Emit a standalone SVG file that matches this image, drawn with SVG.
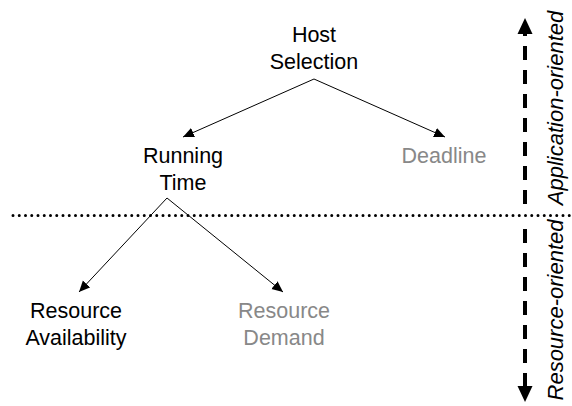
<svg xmlns="http://www.w3.org/2000/svg" width="572" height="406" viewBox="0 0 572 406">
  <defs>
    <marker id="arrow" viewBox="0 0 10 10" refX="10" refY="5" markerWidth="11" markerHeight="11" markerUnits="userSpaceOnUse" orient="auto">
      <path d="M0,0.5 L10,5 L0,9.5 Z" fill="#000"/>
    </marker>
  </defs>
  <style>
    .lbl { font-family: "Liberation Sans", Arial, sans-serif; font-size: 21.5px; text-anchor: middle; fill: #000; }
    .dim { fill: #888888; }
    .axis { font-family: "Liberation Sans", Arial, sans-serif; font-size: 22px; font-style: italic; text-anchor: middle; fill: #000; }
    .edge { stroke: #000; stroke-width: 1; fill: none; marker-end: url(#arrow); }
    .scale { stroke: #000; stroke-width: 4; fill: none; stroke-dasharray: 14 10; }
  </style>
  <rect width="572" height="406" fill="#fff"/>

  <!-- tree connectors -->
  <g id="connectors">
    <line class="edge" x1="314" y1="79" x2="183" y2="137"/>
    <line class="edge" x1="314" y1="79" x2="445" y2="137"/>
    <line class="edge" x1="167" y1="198" x2="79" y2="292"/>
    <line class="edge" x1="167" y1="198" x2="283" y2="292"/>
  </g>

  <g id="host-selection">
    <text class="lbl" x="314" y="42">Host</text>
    <text class="lbl" x="314" y="69">Selection</text>
  </g>
  <g id="running-time">
    <text class="lbl" x="183" y="163">Running</text>
    <text class="lbl" x="183" y="190">Time</text>
  </g>
  <g id="deadline">
    <text class="lbl dim" x="444" y="163">Deadline</text>
  </g>
  <g id="resource-availability">
    <text class="lbl" x="76" y="318">Resource</text>
    <text class="lbl" x="76" y="345">Availability</text>
  </g>
  <g id="resource-demand">
    <text class="lbl dim" x="284" y="318">Resource</text>
    <text class="lbl dim" x="284" y="345">Demand</text>
  </g>

  <!-- boundary between the two levels -->
  <line x1="13" y1="215.5" x2="572" y2="215.5" stroke="#000" stroke-width="3" stroke-linecap="round" stroke-dasharray="0 6.25"/>

  <!-- orientation scale -->
  <g id="scale">
    <line class="scale" x1="525" y1="204" x2="525" y2="32" stroke-dashoffset="0"/>
    <path d="M525,18 L532.5,34 L517.5,34 Z" fill="#000"/>
    <line class="scale" x1="525" y1="229" x2="525" y2="386"/>
    <path d="M525,402 L532.5,386 L517.5,386 Z" fill="#000"/>
    <text class="axis" transform="translate(563,108) rotate(-90)">Application-oriented</text>
    <text class="axis" transform="translate(563,310) rotate(-90)">Resource-oriented</text>
  </g>
</svg>
